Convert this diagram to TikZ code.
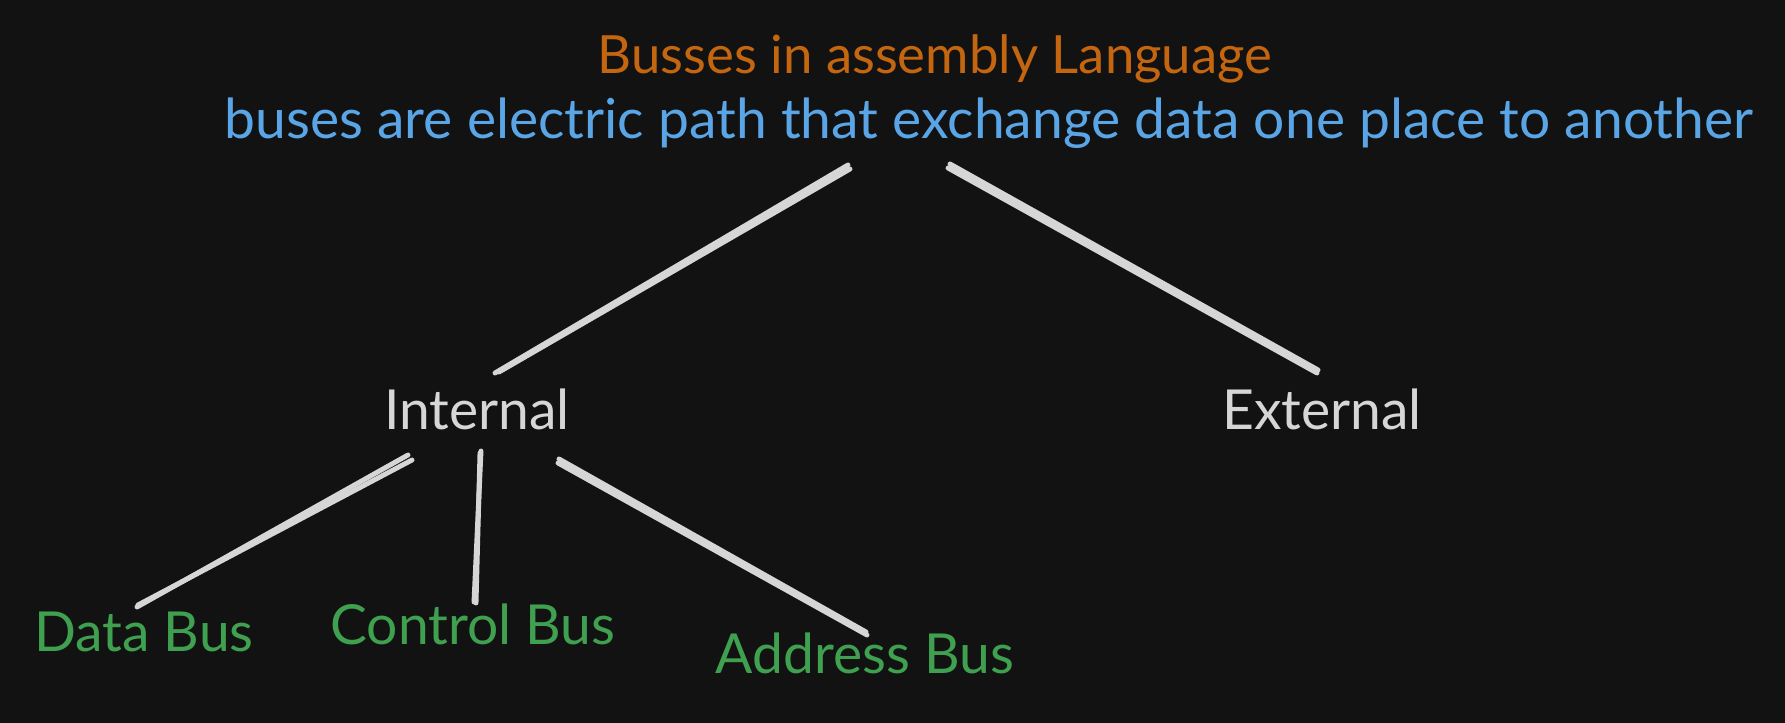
\documentclass[tikz,border=0pt]{standalone}
\usepackage{fontspec}
\setmainfont{Lato}
\usepackage{tikz}
\usetikzlibrary{backgrounds}

\definecolor{bgdark}{HTML}{121212}
\definecolor{titleorange}{HTML}{C4660F}
\definecolor{noteblue}{HTML}{5AA5E6}
\definecolor{leafgreen}{HTML}{3FA050}
\definecolor{chalk}{HTML}{D6D6D6}

\begin{document}
\begin{tikzpicture}
		[heading/.style= {anchor=base,inner sep=0pt,font=\fontsize{15}{18}\selectfont,text=titleorange},
		note/.style= {anchor=base,inner sep=0pt,font=\fontsize{15.7}{18}\selectfont,text=noteblue},
		branch/.style= {anchor=base,inner sep=0pt,font=\fontsize{15.7}{18}\selectfont,text=chalk},
		leaf/.style= {anchor=base,inner sep=0pt,font=\fontsize{15.7}{18}\selectfont,text=leafgreen},
		link/.style={line width=1.4pt,line cap=round,draw=chalk}]

		\useasboundingbox (0,0) rectangle (17.85,-7.23);
		\begin{pgfonlayer}{background}
			\fill[bgdark] (0,0) rectangle (17.85,-7.23);
		\end{pgfonlayer}

		\node[heading] (title) at ( 9.35,-0.74) {Busses in assembly Language};
		\node[note] (sub) at ( 9.89,-1.39) {buses are electric path that exchange data one place to another};

		\node[branch] (int) at ( 4.77,-4.30) {Internal};
		\node[branch] (ext) at ( 13.22,-4.30) {External};

		\node[leaf] (data) at ( 1.44,-6.52) {Data Bus};
		\node[leaf] (ctrl) at ( 4.73,-6.45) {Control Bus};
		\node[leaf] (addr) at ( 8.65,-6.74) {Address Bus};

		% line ends
		\coordinate (sub-l) at ( 8.48,-1.65);
		\coordinate (sub-r) at ( 9.48,-1.68);
		\coordinate (int-top) at ( 4.95,-3.73);
		\coordinate (ext-top) at ( 13.17,-3.73);
		\coordinate (int-l) at ( 4.08,-4.55);
		\coordinate (int-m) at ( 4.80,-4.53);
		\coordinate (int-r) at ( 5.58,-4.63);
		\coordinate (data-top) at ( 1.37,-6.07);
		\coordinate (ctrl-top) at ( 4.76,-6.03);
		\coordinate (addr-top) at ( 8.67,-6.35);

		\draw[link] (sub-l) -- (int-top);
		\draw[link] ([shift={(0.02,-0.04)}]sub-l) -- ([shift={(0.04,0.01)}]int-top);
		\draw[link] (sub-r) -- (ext-top);
		\draw[link] ([shift={(0.02,0.04)}]sub-r) -- ([shift={(0.01,0.03)}]ext-top);

		\draw[link] (int-l) -- (data-top);
		\draw[link] ([shift={(0.04,-0.05)}]int-l) -- ([shift={(0.01,0.02)}]data-top);
		\draw[link] (int-m) -- (ctrl-top);
		\draw[link] ([shift={(0.01,0.02)}]int-m) -- ([shift={(-0.02,0.01)}]ctrl-top);
		\draw[link] (int-r) -- (addr-top);
		\draw[link] ([shift={(0.01,0.04)}]int-r) -- ([shift={(-0.01,0.03)}]addr-top);

	\end{tikzpicture}
\end{document}
